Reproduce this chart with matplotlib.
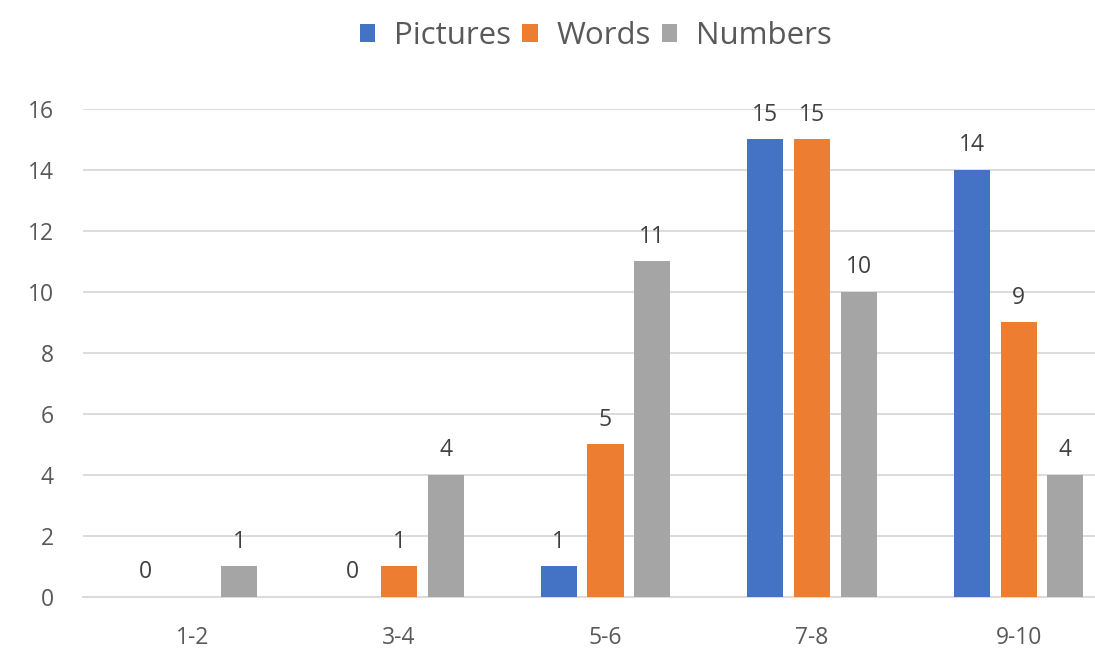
import matplotlib
matplotlib.use("Agg")
import matplotlib.pyplot as plt
import numpy as np

categories = ["1-2", "3-4", "5-6", "7-8", "9-10"]
series_names = ["Pictures", "Words", "Numbers"]
pictures = [0, 0, 1, 15, 14]
words = [None, 1, 5, 15, 9]
numbers = [1, 4, 11, 10, 4]
colors = ["#4472C4", "#ED7D31", "#A5A5A5"]
y_ticks = [0, 2, 4, 6, 8, 10, 12, 14, 16]

plt.rcParams['font.family'] = ['Open Sans', 'DejaVu Sans']

fig = plt.figure(figsize=(10.95, 6.51), dpi=100)
ax = fig.add_axes([0.0758, 0.083, 0.9242, 0.7496])

x = np.arange(len(categories))
offset = 0.226
width = 0.175
all_series = [pictures, words, numbers]
handles = []
for i, (vals, name, col) in enumerate(zip(all_series, series_names, colors)):
    xs = x + (i - 1) * offset
    hv = [v if v is not None else 0 for v in vals]
    b = ax.bar(xs, hv, width=width, color=col, label=name, zorder=3)
    handles.append(b)
    for xi, v in zip(xs, vals):
        if v is None:
            continue
        ax.annotate(str(v), (xi, v), xytext=(0, 9), textcoords="offset points",
                    ha="center", va="bottom", fontsize=16.5, color="#404040")

ax.set_ylim(0, 16)
ax.set_xlim(-0.53, 4.37)
ax.set_yticks(y_ticks)
ax.set_xticks(x)
ax.set_xticklabels(categories)
ax.tick_params(axis="both", length=0, labelsize=16.5, colors="#595959")
ax.tick_params(axis="y", pad=21)
ax.tick_params(axis="x", pad=21)
ax.grid(axis="y", color="#D9D9D9", linewidth=1.3, zorder=0)
for s in ["top", "right", "left"]:
    ax.spines[s].set_visible(False)
ax.spines["bottom"].set_color("#D9D9D9")
ax.spines["bottom"].set_linewidth(1.3)

fig.legend(handles=handles, labels=series_names, loc="center", bbox_to_anchor=(0.544, 0.945),
           ncol=3, frameon=False, fontsize=22.5, handlelength=0.5, handleheight=0.5,
           handletextpad=0.6, columnspacing=0.35, labelcolor="#595959")

fig.savefig("out.png", dpi=100)
